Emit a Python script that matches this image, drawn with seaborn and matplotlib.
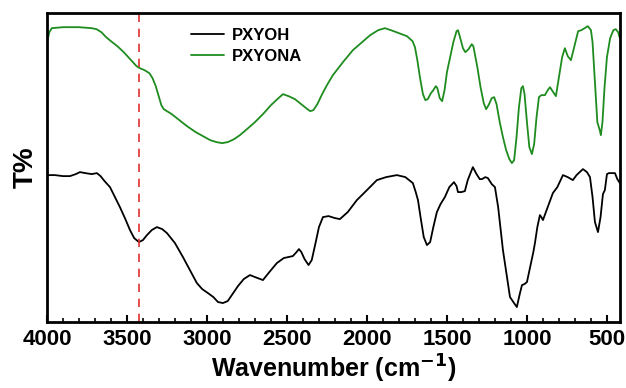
import numpy as np
import pandas as pd
import matplotlib
matplotlib.use("Agg")
import matplotlib.pyplot as plt
from matplotlib.ticker import MultipleLocator
import seaborn as sns

# Wavenumber (cm^-1) and relative transmittance (arbitrary units)
wn_pxyona = [3995, 3985, 3970, 3900, 3800, 3720, 3690, 3660, 3630, 3600, 3560, 3520, 3480, 3440,
             3420, 3390, 3360, 3340, 3320, 3300, 3285, 3270, 3250, 3220, 3180, 3125, 3070, 3025,
             2980, 2940, 2906, 2870, 2830, 2794, 2750, 2700, 2650, 2600, 2560, 2525, 2490, 2450,
             2419, 2380, 2355, 2335, 2310, 2280, 2250, 2213, 2150, 2088, 2030, 1980, 1930, 1888,
             1850, 1800, 1750, 1715, 1700, 1685, 1669, 1650, 1635, 1620, 1600, 1585, 1570, 1560,
             1545, 1530, 1515, 1500, 1480, 1460, 1440, 1431, 1420, 1400, 1385, 1365, 1345, 1335,
             1310, 1290, 1270, 1255, 1240, 1220, 1205, 1190, 1170, 1150, 1130, 1110, 1094, 1080,
             1065, 1050, 1035, 1025, 1015, 1000, 985, 969, 955, 940, 925, 910, 888, 870, 856, 840,
             819, 800, 780, 763, 745, 725, 700, 680, 660, 630, 619, 600, 590, 575, 560, 545, 538,
             528, 515, 500, 480, 460, 445, 430, 419]
t_pxyona = [283, 290, 294, 295, 295, 294, 293, 290, 285, 281, 276, 270, 263, 256,
            254, 252, 249, 244, 236, 225, 217, 213, 211, 208, 203, 196, 190, 186,
            182, 180, 179, 180, 183, 187, 193, 200, 208, 217, 223, 228, 226, 223,
            219, 214, 211, 212, 218, 228, 237, 247, 260, 272, 280, 287, 292, 294,
            292, 289, 286, 281, 275, 262, 245, 228, 222, 223, 229, 232, 236, 234,
            224, 221, 232, 250, 265, 280, 291, 292, 286, 274, 270, 273, 278, 276,
            255, 235, 219, 213, 217, 224, 225, 218, 200, 185, 172, 163, 159, 162,
            185, 215, 234, 236, 228, 200, 175, 168, 178, 205, 225, 227, 227, 232, 235, 231,
            226, 245, 265, 274, 266, 262, 278, 291, 292, 295, 296, 292, 280, 240, 200, 192, 187,
            200, 235, 265, 284, 292, 293, 290, 284]

wn_pxyoh = [3995, 3950, 3900, 3856, 3820, 3794, 3760, 3720, 3688, 3665, 3640, 3606, 3575, 3544,
            3510, 3481, 3455, 3425, 3400, 3375, 3345, 3313, 3280, 3250, 3200, 3150, 3100, 3063,
            3030, 2994, 2960, 2931, 2900, 2870, 2840, 2806, 2770, 2731, 2700, 2650, 2610, 2563,
            2520, 2463, 2440, 2425, 2410, 2390, 2365, 2345, 2320, 2300, 2275, 2240, 2200, 2169,
            2120, 2063, 2000, 1938, 1880, 1813, 1760, 1713, 1695, 1681, 1665, 1645, 1625, 1605,
            1585, 1563, 1540, 1513, 1485, 1456, 1440, 1431, 1410, 1388, 1370, 1338, 1315, 1295,
            1281, 1260, 1244, 1220, 1200, 1180, 1150, 1125, 1106, 1085, 1063, 1045, 1031, 1015,
            1000, 980, 960, 950, 935, 919, 910, 900, 870, 838, 810, 775, 745, 713, 690, 650,
            625, 606, 590, 575, 556, 540, 525, 513, 500, 488, 470, 450, 435, 419]
t_pxyoh = [147, 147, 146, 146, 148, 150, 149, 148, 149, 146, 141, 135, 125, 115,
           103, 92, 84, 80, 82, 87, 92, 95, 93, 89, 79, 65, 50, 39,
           33, 29, 25, 20, 19, 21, 28, 36, 43, 47, 45, 42, 50, 59,
           64, 66, 70, 73, 70, 63, 57, 62, 80, 95, 105, 106, 104, 103,
           110, 122, 132, 142, 145, 147, 145, 139, 130, 122, 105, 85, 77, 80,
           95, 110, 118, 125, 135, 140, 136, 130, 130, 131, 142, 155, 148, 143,
           143, 145, 144, 138, 135, 115, 72, 45, 25, 20, 15, 28, 37, 38,
           40, 55, 70, 79, 95, 107, 105, 102, 115, 129, 135, 147, 145, 142, 147, 153,
           150, 145, 125, 100, 90, 105, 128, 132, 148, 149, 149, 149, 143, 139]

ref_line = 3422
labels = ["PXYOH", "PXYONA"]

df = pd.concat([
    pd.DataFrame({"wn": wn_pxyoh, "T": t_pxyoh, "sample": labels[0]}),
    pd.DataFrame({"wn": wn_pxyona, "T": t_pxyona, "sample": labels[1]}),
])

sns.set_style("ticks")
plt.rcParams["font.family"] = ["Liberation Sans", "DejaVu Sans"]
plt.rcParams["font.weight"] = "bold"
plt.rcParams["text.color"] = "black"
plt.rcParams["axes.labelcolor"] = "black"
plt.rcParams["xtick.color"] = "black"
plt.rcParams["axes.edgecolor"] = "black"

fig = plt.figure(figsize=(6.26, 3.88), dpi=100)
ax = fig.add_axes([0.075, 0.170, 0.915, 0.796])

sns.lineplot(data=df, x="wn", y="T", hue="sample", palette={labels[0]: "black", labels[1]: "#1e8c1e"},
             sort=False, estimator=None, linewidth=1.3, ax=ax)
ax.axvline(ref_line, color="#e03030", linestyle=(0, (5, 4)), linewidth=1.2)

ax.set_xlim(4000, 420)
ax.set_ylim(0, 309)
ax.set_yticks([])
ax.xaxis.set_major_locator(MultipleLocator(500))
ax.xaxis.set_minor_locator(MultipleLocator(100))
ax.tick_params(axis="x", which="major", direction="in", length=5, width=1.5, labelsize=16, pad=5)
ax.tick_params(axis="x", which="minor", direction="in", length=3, width=1.2)
for lab in ax.get_xticklabels():
    lab.set_fontweight("bold")
for s in ax.spines.values():
    s.set_linewidth(2)
    s.set_visible(True)

ax.set_xlabel("Wavenumber (cm$^{\\mathbf{-1}}$)", fontsize=18, fontweight="bold", labelpad=2)
ax.set_ylabel("T%", fontsize=20, fontweight="bold", labelpad=6)

leg = ax.legend(loc="upper left", bbox_to_anchor=(0.225, 1.0), frameon=False,
                prop={"weight": "bold", "size": 12}, handlelength=2.0, handletextpad=0.45,
                labelspacing=0.35)

fig.savefig("out.png", dpi=100)
